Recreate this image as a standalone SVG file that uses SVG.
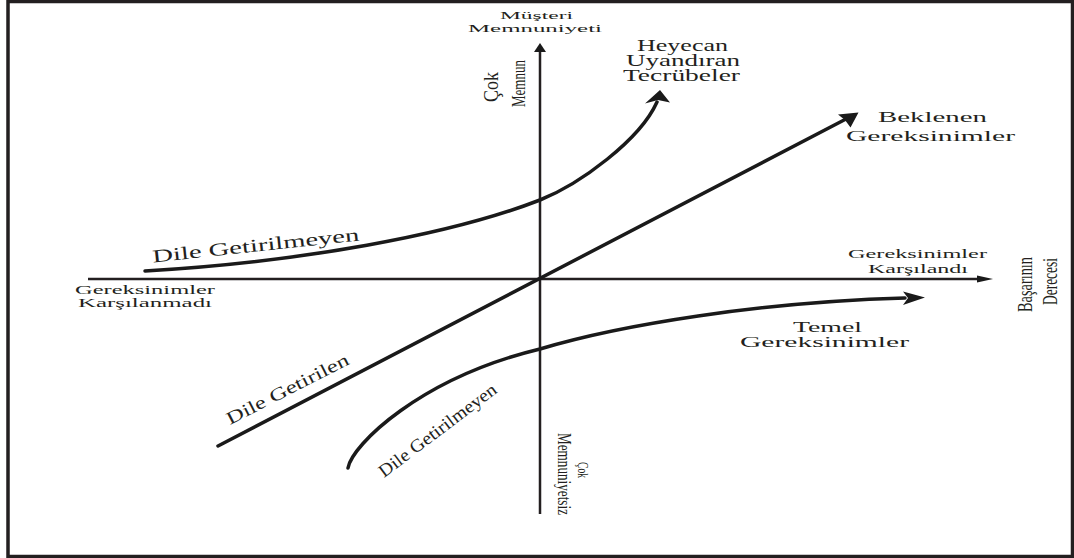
<svg xmlns="http://www.w3.org/2000/svg" width="1074" height="558" viewBox="0 0 1074 558">
<style>
text{font-family:"Liberation Serif","Times New Roman",serif;fill:#231f20;}
.ax{stroke:#231f20;stroke-width:2.5;fill:none;}
.cv{stroke:#1a1a1a;stroke-width:3.5;fill:none;stroke-linecap:round;}
.ah{fill:#1a1a1a;stroke:none;}
.s11{font-size:11px;}
.s12{font-size:12px;}
.s15{font-size:15px;}
.s16{font-size:16px;}
.s18{font-size:18px;}
.s20{font-size:20px;}
</style>
<rect x="0" y="0" width="1074" height="558" fill="#ffffff"/>
<rect x="8" y="1.5" width="1064.5" height="555" fill="none" stroke="#231f20" stroke-width="3.5"/>
<g id="connectors">
  <line class="ax" x1="540" y1="50" x2="540" y2="514"/>
  <polygon class="ah" points="540,43 546,52 534,52"/>
  <line class="ax" x1="88" y1="279" x2="980" y2="279"/>
  <polygon class="ah" points="993,279 977,275.5 977,282.5"/>
  <line class="cv" x1="218" y1="446" x2="846" y2="119" stroke-linecap="butt"/>
  <polygon class="ah" points="858.5,112.5 838,114.5 845,120 850.5,127.5"/>
  <path class="cv" d="M145,271 C300,262 450,235 540,200 C580,184 640,140 657,102"/>
  <polygon class="ah" points="660,90 645,103.5 658,100 670,102.5"/>
  <path class="cv" d="M348,468 C352,445 420,378 540,349 C620,325 760,302 905,298"/>
  <polygon class="ah" points="925,297.5 903,291.5 908,298 903,305"/>
</g>
<g id="y-axis-label">
  <text class="s11" x="500" y="18.5" textLength="73" lengthAdjust="spacingAndGlyphs">Müşteri</text>
  <text class="s11" x="468" y="31.5" textLength="134" lengthAdjust="spacingAndGlyphs">Memnuniyeti</text>
</g>
<g id="cok-memnun">
  <text class="s20" text-anchor="middle" transform="translate(498,87) rotate(-90)" textLength="30" lengthAdjust="spacingAndGlyphs">Çok</text>
  <text class="s18" text-anchor="middle" transform="translate(525,83.5) rotate(-90)" textLength="47" lengthAdjust="spacingAndGlyphs">Memnun</text>
</g>
<g id="heyecan">
  <text class="s16" x="637" y="50.5" textLength="91" lengthAdjust="spacingAndGlyphs">Heyecan</text>
  <text class="s16" x="626" y="65.5" textLength="114" lengthAdjust="spacingAndGlyphs">Uyandıran</text>
  <text class="s16" x="623" y="80.5" textLength="117" lengthAdjust="spacingAndGlyphs">Tecrübeler</text>
</g>
<g id="beklenen">
  <text class="s15" x="878" y="122" textLength="109" lengthAdjust="spacingAndGlyphs">Beklenen</text>
  <text class="s15" x="846" y="141" textLength="169" lengthAdjust="spacingAndGlyphs">Gereksinimler</text>
</g>
<g id="karsilandi">
  <text class="s12" x="848" y="258" textLength="139" lengthAdjust="spacingAndGlyphs">Gereksinimler</text>
  <text class="s12" x="868" y="273" textLength="100" lengthAdjust="spacingAndGlyphs">Karşılandı</text>
</g>
<g id="basari">
  <text class="s20" text-anchor="middle" transform="translate(1032,284.5) rotate(-90)" textLength="55" lengthAdjust="spacingAndGlyphs">Başarının</text>
  <text class="s20" text-anchor="middle" transform="translate(1057,281.5) rotate(-90)" textLength="47" lengthAdjust="spacingAndGlyphs">Derecesi</text>
</g>
<g id="karsilanmadi">
  <text class="s12" x="75" y="294" textLength="140" lengthAdjust="spacingAndGlyphs">Gereksinimler</text>
  <text class="s12" x="78" y="307" textLength="134" lengthAdjust="spacingAndGlyphs">Karşılanmadı</text>
</g>
<g id="temel">
  <text class="s15" x="793" y="332" textLength="69" lengthAdjust="spacingAndGlyphs">Temel</text>
  <text class="s15" x="740" y="347" textLength="169" lengthAdjust="spacingAndGlyphs">Gereksinimler</text>
</g>
<g id="dile-getirilmeyen-ust">
  <text class="s18" transform="translate(153,262.5) rotate(-6.1)" textLength="208" lengthAdjust="spacingAndGlyphs">Dile Getirilmeyen</text>
</g>
<g id="dile-getirilen">
  <text class="s18" transform="translate(230,425) rotate(-27)" textLength="135" lengthAdjust="spacingAndGlyphs">Dile Getirilen</text>
</g>
<g id="dile-getirilmeyen-alt">
  <text class="s18" transform="translate(384,478) rotate(-37)" textLength="143" lengthAdjust="spacingAndGlyphs">Dile Getirilmeyen</text>
</g>
<g id="cok-memnuniyetsiz">
  <text class="s15" text-anchor="middle" transform="translate(578,470) rotate(90)" textLength="16" lengthAdjust="spacingAndGlyphs">Çok</text>
  <text class="s18" text-anchor="middle" transform="translate(558,474) rotate(90)" textLength="82" lengthAdjust="spacingAndGlyphs">Memnuniyetsiz</text>
</g>
</svg>
